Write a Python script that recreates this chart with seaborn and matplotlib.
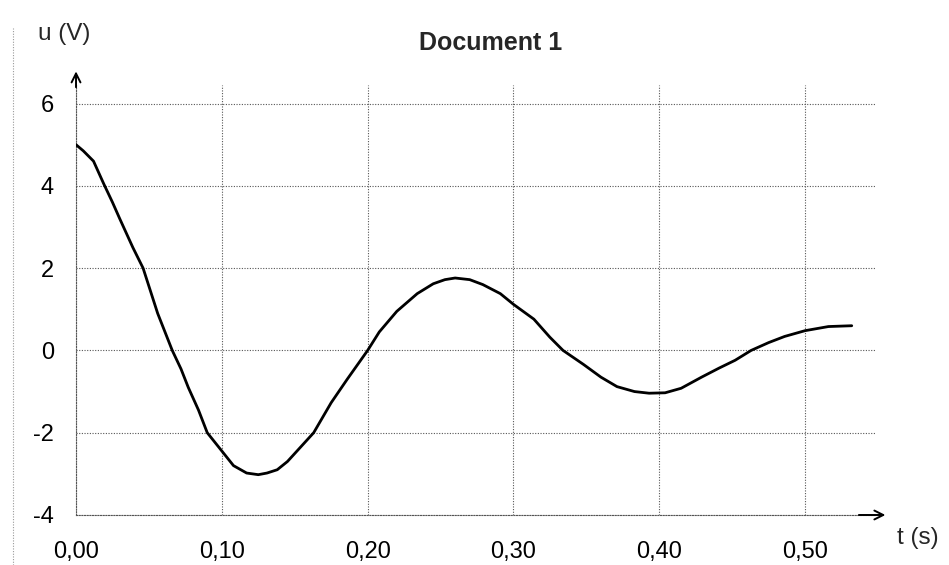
import matplotlib
matplotlib.use("Agg")
import matplotlib.pyplot as plt
import seaborn as sns
import pandas as pd
from matplotlib.ticker import MultipleLocator

# ---- data ----
t_values = [0.000, 0.005, 0.012, 0.019, 0.025, 0.030, 0.039, 0.046, 0.056, 0.066,
            0.072, 0.077, 0.084, 0.090, 0.099, 0.108, 0.117, 0.125, 0.131, 0.138,
            0.145, 0.154, 0.163, 0.175, 0.186, 0.200, 0.208, 0.220, 0.234, 0.245,
            0.253, 0.260, 0.270, 0.279, 0.291, 0.300, 0.314, 0.325, 0.334, 0.348,
            0.360, 0.371, 0.383, 0.393, 0.404, 0.415, 0.429, 0.441, 0.452, 0.463,
            0.475, 0.486, 0.500, 0.516, 0.532]
u_values = [5.00, 4.85, 4.60, 4.05, 3.60, 3.20, 2.50, 2.00, 0.90, 0.00,
            -0.45, -0.90, -1.45, -2.00, -2.40, -2.80, -2.98, -3.02, -2.98, -2.90,
            -2.70, -2.35, -2.00, -1.27, -0.70, 0.00, 0.45, 0.95, 1.38, 1.62,
            1.72, 1.76, 1.72, 1.60, 1.38, 1.12, 0.76, 0.32, 0.00, -0.34,
            -0.65, -0.88, -1.00, -1.04, -1.03, -0.92, -0.65, -0.43, -0.24, 0.00,
            0.19, 0.34, 0.48, 0.58, 0.60]
x_ticks = [0.0, 0.1, 0.2, 0.3, 0.4, 0.5]
x_tick_labels = ["0,00", "0,10", "0,20", "0,30", "0,40", "0,50"]
y_ticks = [-4, -2, 0, 2, 4, 6]
y_tick_labels = ["-4", "-2", "0", "2", "4", "6"]
title_text = "Document 1"
y_label = "u (V)"
x_label = "t (s)"

df = pd.DataFrame({"t": t_values, "u": u_values})

sns.set_theme(style="white")
plt.rcParams["font.family"] = ["Liberation Sans", "DejaVu Sans"]

fig = plt.figure(figsize=(9.49, 5.65), dpi=100)
ax = fig.add_axes([0.0801, 0.0885, 0.842, 0.761])

dot = (0, (1, 1.4))
grid_color = "#555555"

sns.lineplot(data=df, x="t", y="u", ax=ax, color="black", linewidth=2.0,
             estimator=None, sort=False, zorder=3)

ax.set_xlim(0, 0.548)
ax.set_ylim(-4, 6.45)
ax.set_xticks(x_ticks, labels=x_tick_labels)
ax.set_yticks(y_ticks, labels=y_tick_labels)
ax.xaxis.set_minor_locator(MultipleLocator(0.01))
ax.yaxis.set_minor_locator(MultipleLocator(0.25))

ax.grid(True, which="major", color=grid_color, linestyle=dot, linewidth=0.8)
ax.tick_params(axis="both", which="major", length=0, labelsize=17, colors="black")
ax.tick_params(axis="x", which="major", pad=19)
ax.tick_params(axis="y", which="major", pad=16)
ax.tick_params(axis="both", which="minor", direction="in", length=3, width=0.6,
               color="#777777")

for side in ["top", "right"]:
    ax.spines[side].set_visible(False)
for side in ["left", "bottom"]:
    ax.spines[side].set_color(grid_color)
    ax.spines[side].set_linestyle(dot)
    ax.spines[side].set_linewidth(0.8)

ax.set_xlabel("")
ax.set_ylabel("")

# axis arrows
ax.annotate("", xy=(0.0, 6.85), xytext=(0.0, 6.33), xycoords="data",
            arrowprops=dict(arrowstyle="->", color="black", lw=1.4,
                            mutation_scale=16), annotation_clip=False)
ax.annotate("", xy=(0.557, -4.0), xytext=(0.535, -4.0), xycoords="data",
            arrowprops=dict(arrowstyle="->", color="black", lw=1.4,
                            mutation_scale=16), annotation_clip=False)

fig.text(38 / 949, 1 - 34 / 565, y_label, fontsize=17.5, ha="left", va="center")
fig.text(897 / 949, 1 - 538 / 565, x_label, fontsize=17.5, ha="left", va="center")
fig.text(491 / 949, 1 - 43 / 565, title_text, fontsize=18, fontweight="bold",
         ha="center", va="center")

# faint page border from the scan on the far left
fig.add_artist(plt.Line2D([13 / 949, 13 / 949], [0.0, 0.95], transform=fig.transFigure,
                          color="#999999", linestyle=dot, linewidth=0.8))

fig.savefig("out.png", dpi=100)
